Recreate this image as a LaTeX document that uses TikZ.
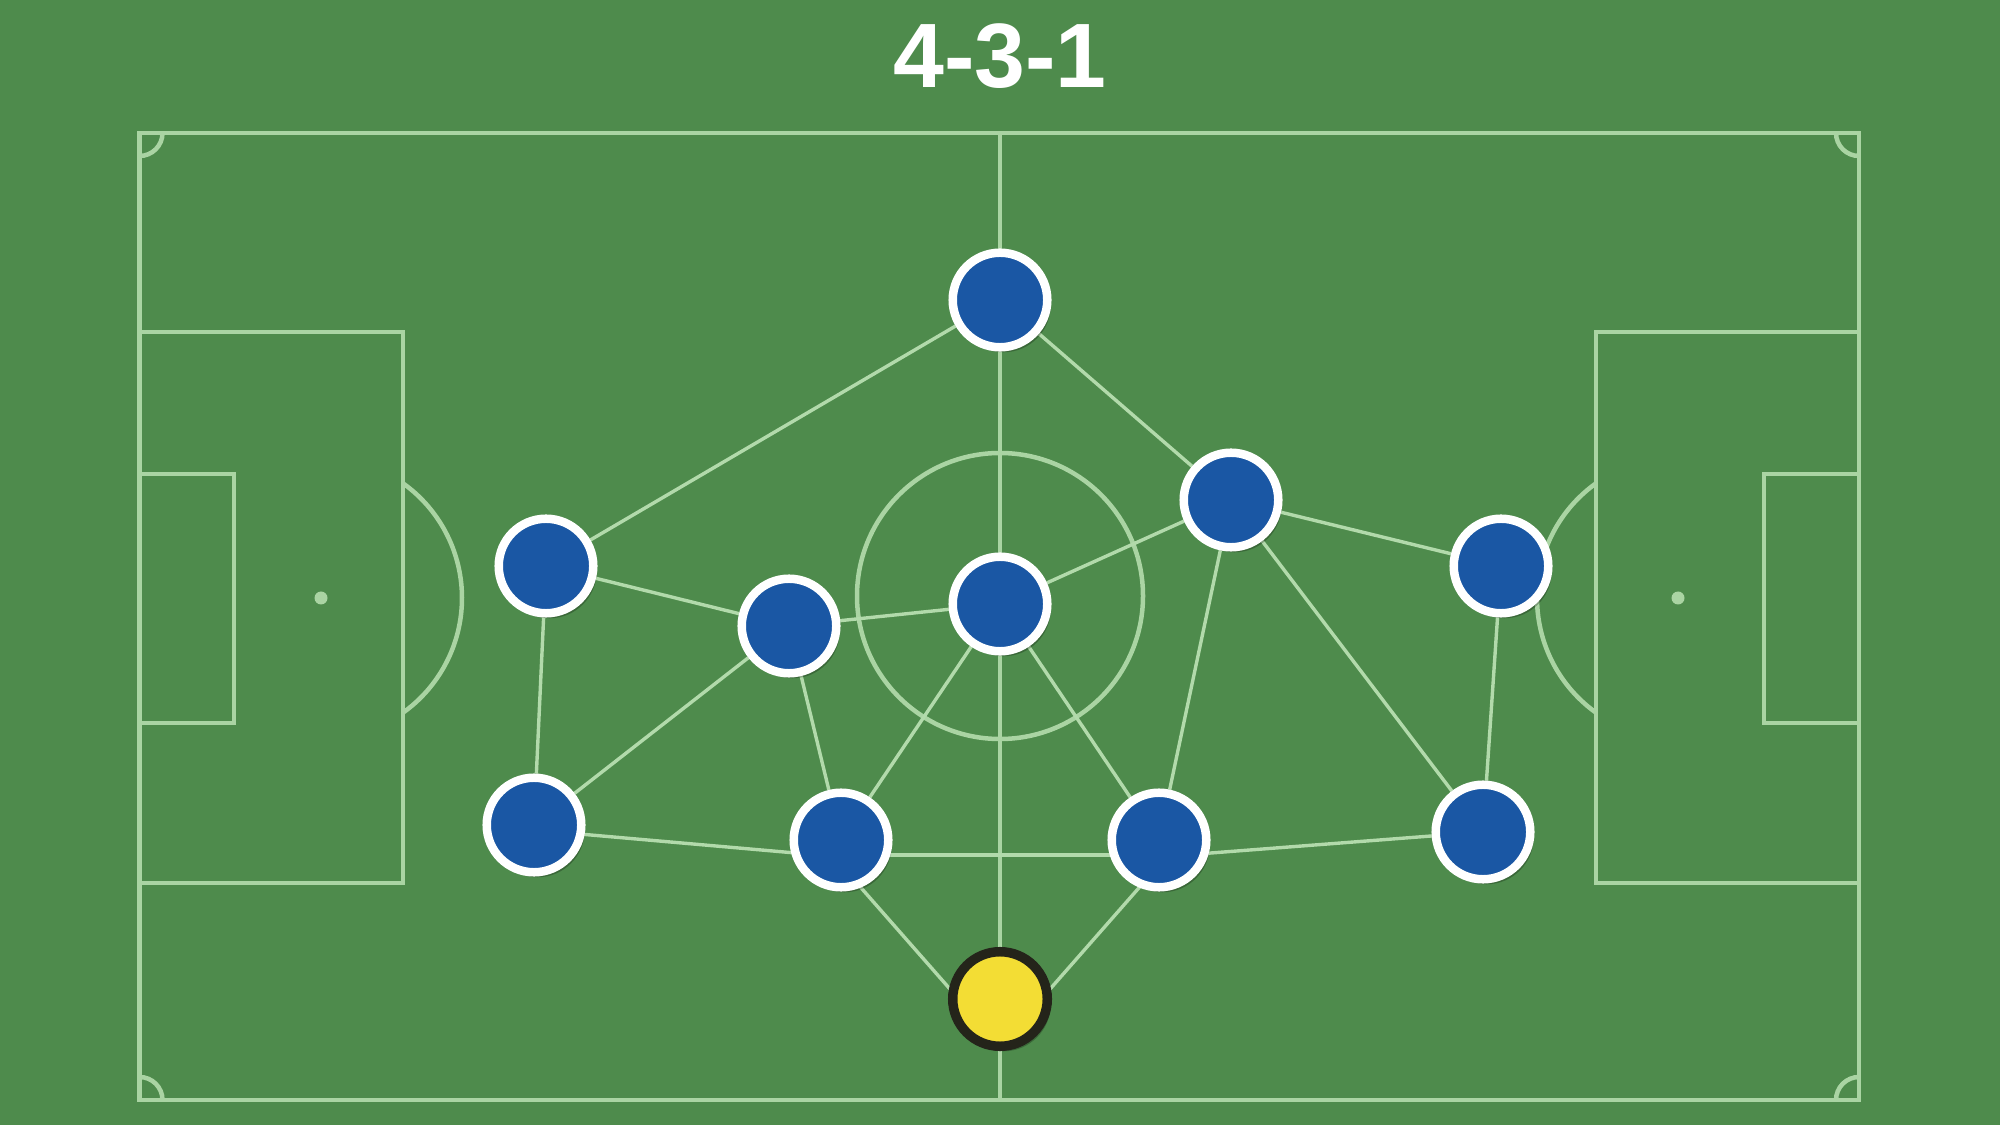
\documentclass[tikz,border=0pt]{standalone}
\usepackage{fontspec}
\setmainfont{Liberation Sans}
\usetikzlibrary{calc,shadows}
\definecolor{grassC}{RGB}{78,139,76}
\definecolor{lineC}{RGB}{170,212,163}
\definecolor{linkC}{RGB}{178,218,171}
\definecolor{blueC}{RGB}{26,87,164}
\definecolor{yellowC}{RGB}{243,221,52}
\definecolor{ringC}{RGB}{36,36,26}
\pgfdeclarelayer{back}
\pgfdeclarelayer{mid}
\pgfsetlayers{back,mid,main}
\begin{document}
\begin{tikzpicture}[x=0.01cm,y=-0.01cm,
  pline/.style={draw=lineC, line width=0.045cm},
  link/.style={draw=linkC, line width=0.034cm},
  spot/.style={fill=lineC},
  player/.style={circle, inner sep=0pt, minimum size=0.945cm, fill=blueC, draw=white, line width=0.085cm,
    drop shadow={shadow xshift=0.35mm, shadow yshift=-0.5mm, opacity=0.25, fill=black}},
  keeper/.style={player, fill=yellowC, draw=ringC, line width=0.095cm},
  titlestyle/.style={font=\bfseries\fontsize{26}{30}\selectfont, text=white, anchor=base, inner sep=0pt}]

% players
\node[player] (top) at (1000,300) {};
\node[player] (lw)  at (546,566) {};
\node[player] (lcm) at (789,626) {};
\node[player] (cen) at (1000,604) {};
\node[player] (rcm) at (1231,500) {};
\node[player] (rw)  at (1501,566) {};
\node[player] (lb)  at (534,825) {};
\node[player] (lcb) at (841,840) {};
\node[player] (rcb) at (1159,840) {};
\node[player] (rb)  at (1483,832) {};
\node[keeper] (gk)  at (1000,999) {};

\node[titlestyle] (title) at (1000,88) {4-3-1};

\begin{pgfonlayer}{back}
  \fill[grassC] (0,0) rectangle (2000,1125);
  % outer lines and halfway line
  \draw[pline] (139.5,133) rectangle (1859,1100);
  \draw[pline] (1000,133) -- (1000,1100);
  \draw[pline] (1000,596) circle[radius=143];
  % left end
  \draw[pline] (139.5,332) rectangle (403,883);
  \draw[pline] (139.5,474) rectangle (234,723);
  \fill[spot] (321,598) circle[radius=6.5];
  \draw[pline] (321,598) ++(-54.4:141) arc[start angle=-54.4, end angle=54.4, radius=141];
  % right end
  \draw[pline] (1596,332) rectangle (1859,883);
  \draw[pline] (1764,474) rectangle (1859,723);
  \fill[spot] (1678,598) circle[radius=6.5];
  \draw[pline] (1678,598) ++(125.6:141) arc[start angle=125.6, end angle=234.4, radius=141];
  % corner arcs
  \draw[pline] (162.5,133) arc[start angle=0, end angle=90, radius=23];
  \draw[pline] (1836,133) arc[start angle=180, end angle=90, radius=23];
  \draw[pline] (139.5,1077) arc[start angle=-90, end angle=0, radius=23];
  \draw[pline] (1859,1077) arc[start angle=270, end angle=180, radius=23];
\end{pgfonlayer}

\begin{pgfonlayer}{mid}
  \draw[link] (top) -- (lw);
  \draw[link] (top) -- (rcm);
  \draw[link] (lw) -- (lcm);
  \draw[link] (lw) -- (lb);
  \draw[link] (lcm) -- (cen);
  \draw[link] (lcm) -- (lb);
  \draw[link] (lcm) -- (lcb);
  \draw[link] (cen) -- (rcm);
  \draw[link] (cen) -- (lcb);
  \draw[link] (cen) -- (rcb);
  \draw[link] (rcm) -- (rw);
  \draw[link] (rcm) -- (rcb);
  \draw[link] (rcm) -- (rb);
  \draw[link] (rw) -- (rb);
  \draw[link] ($(lb)+(0,5)$) -- ($(lcb)+(0,17)$);
  \draw[link] ($(lcb)+(0,15)$) -- ($(rcb)+(0,15)$);
  \draw[link] ($(rcb)+(0,17)$) -- (rb);
  \draw[link] ($(lcb)+(0,25)$) -- ($(gk)+(0,47)$);
  \draw[link] ($(rcb)+(0,25)$) -- ($(gk)+(0,47)$);
\end{pgfonlayer}
\end{tikzpicture}
\end{document}
